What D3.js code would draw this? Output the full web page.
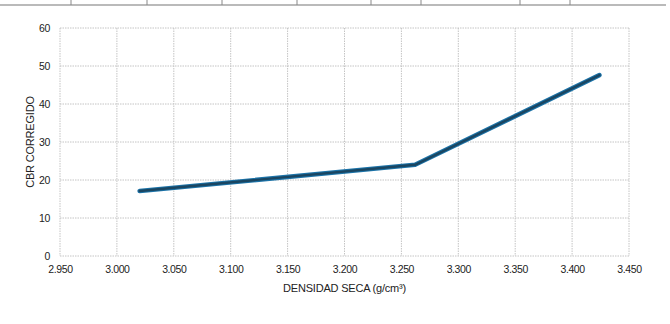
<!DOCTYPE html>
<html><head><meta charset="utf-8">
<script src="https://cdn.jsdelivr.net/npm/d3@7"></script>
<style>body{margin:0;background:#fff}svg{display:block}text{font-family:"Liberation Sans",Arial,sans-serif;fill:#222}</style>
</head><body>
<svg id="c" width="670" height="324"></svg>
<script>
const densidad = [3.020, 3.262, 3.424];
const cbr = [17.1, 24.0, 47.6];
const xTicks = [2.95, 3.00, 3.05, 3.10, 3.15, 3.20, 3.25, 3.30, 3.35, 3.40, 3.45];
const yTicks = [0, 10, 20, 30, 40, 50, 60];
const xTitle = "DENSIDAD SECA (g/cm³)";
const yTitle = "CBR CORREGIDO";

const svg = d3.select("#c");
const m = {l:60, r:629, t:28, b:256};
const x = d3.scaleLinear().domain([2.95, 3.45]).range([m.l, m.r]);
const y = d3.scaleLinear().domain([0, 60]).range([m.b, m.t]);

// scanned table edge at top
svg.append("line").attr("x1",0).attr("x2",666).attr("y1",5).attr("y2",5).attr("stroke","#777").attr("stroke-width",1.2);
[71,147,222,297,371,421,520,570].forEach(px=>svg.append("line").attr("x1",px).attr("x2",px).attr("y1",0).attr("y2",5).attr("stroke","#888"));

// grid
const g = svg.append("g");
g.selectAll(".gx").data(xTicks).join("line")
  .attr("x1",d=>x(d)).attr("x2",d=>x(d)).attr("y1",m.t).attr("y2",m.b)
  .attr("stroke","#c4c4c4").attr("stroke-width",1).attr("stroke-dasharray","1.5,1");
g.selectAll(".gy").data(yTicks).join("line")
  .attr("x1",m.l).attr("x2",m.r).attr("y1",d=>y(d)).attr("y2",d=>y(d))
  .attr("stroke","#c4c4c4").attr("stroke-width",1).attr("stroke-dasharray","1.5,1");

// axes labels via d3 axes
const xAxis = svg.append("g").attr("transform",`translate(0,${m.b})`)
  .call(d3.axisBottom(x).tickValues(xTicks).tickSize(0).tickPadding(10).tickFormat(d3.format(".3f")));
const yAxis = svg.append("g").attr("transform",`translate(${m.l},0)`)
  .call(d3.axisLeft(y).tickValues(yTicks).tickSize(0).tickPadding(10));
[xAxis,yAxis].forEach(a=>{a.select(".domain").remove();
  a.selectAll("text").style("font-family","'Liberation Sans',Arial,sans-serif").style("font-size","10.5px").attr("fill","#222").style("letter-spacing","-0.4px");});

// line
const pts = densidad.map((d,i)=>[d,cbr[i]]);
const line = d3.line().x(d=>x(d[0])).y(d=>y(d[1]));
svg.append("path").datum(pts).attr("d",line).attr("fill","none")
  .attr("stroke","#1c73a8").attr("stroke-width",4.6).attr("stroke-linecap","round").attr("stroke-linejoin","round");
svg.append("path").datum(pts).attr("d",line).attr("fill","none")
  .attr("stroke","#1a4662").attr("stroke-width",2.4).attr("stroke-linecap","round").attr("stroke-linejoin","round");

// titles
svg.append("text").attr("x",(m.l+m.r)/2).attr("y",292).attr("text-anchor","middle")
  .style("font-size","11px").style("letter-spacing","-0.2px").text(xTitle);
svg.append("text").attr("transform",`translate(34,${(m.t+m.b)/2}) rotate(-90)`).attr("text-anchor","middle")
  .style("font-size","11px").style("letter-spacing","-0.2px").text(yTitle);
</script>
</body></html>
